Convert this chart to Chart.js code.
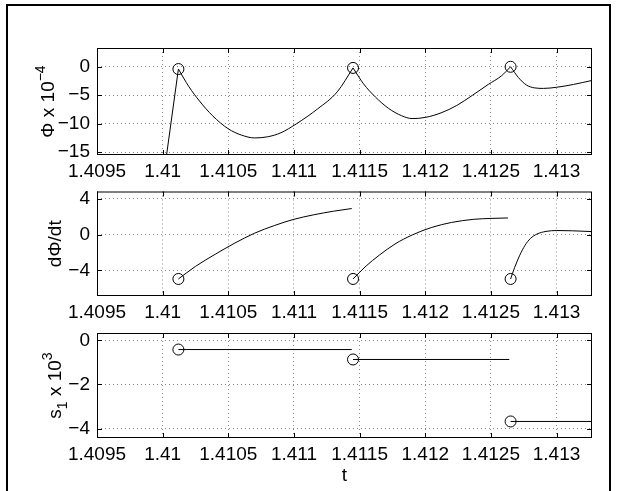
<!DOCTYPE html>
<html>
<head>
<meta charset="utf-8">
<script src="https://cdn.jsdelivr.net/npm/chart.js@4.4.1/dist/chart.umd.min.js"></script>
<style>
  html, body { margin: 0; padding: 0; background: #fff; }
  body { width: 619px; height: 491px; position: relative; overflow: hidden; }
  .frame { position: absolute; left: 6px; top: 4px; width: 601px; height: 520px; border: 2px solid #000; border-bottom: none; }
  canvas { position: absolute; left: 0; }
</style>
</head>
<body>
<div class="frame"></div>
<canvas id="c1" width="619" height="185" style="top:0px"></canvas>
<canvas id="c2" width="619" height="140" style="top:185px"></canvas>
<canvas id="c3" width="619" height="166" style="top:325px"></canvas>
<script>
// shared time axis
const xTicks = [1.4095, 1.41, 1.4105, 1.411, 1.4115, 1.412, 1.4125, 1.413];
const tMin = 1.4095, tMax = 1.41327;

// switching events (circles)
const eventT = [1.41012, 1.41145, 1.41265];
const phiEvent = [-0.4, -0.2, 0.0];
const dphiEvent = [-4.95, -4.95, -4.95];
const s1Event = [-0.42, -0.87, -3.68];

// Phi x 1e-4
const phiTicks = [-15, -10, -5, 0];
const phiT0 = [1.41000, 1.41012];
const phi0 = [-20.5, -0.4];
const phiT1 = [1.41012, 1.41020, 1.41028, 1.41038, 1.41050, 1.41060, 1.41070, 1.41080, 1.41090, 1.41102, 1.41118, 1.41133, 1.41145];
const phi1 = [-0.4, -3.5, -6.0, -8.6, -10.9, -12.0, -12.5, -12.3, -11.6, -10.0, -7.4, -4.4, -0.2];
const phiT2 = [1.41145, 1.41153, 1.41162, 1.41172, 1.41182, 1.41190, 1.41200, 1.41212, 1.41224, 1.41236, 1.41248, 1.41258, 1.41265];
const phi2 = [-0.2, -3.0, -5.3, -7.3, -8.6, -9.1, -8.9, -8.1, -6.8, -5.0, -3.1, -1.6, 0.0];
const phiT3 = [1.41265, 1.41271, 1.41277, 1.41283, 1.41290, 1.41300, 1.41313, 1.41327];
const phi3 = [0.0, -1.9, -3.2, -3.7, -3.8, -3.6, -3.1, -2.4];

// dPhi/dt
const dphiTicks = [-4, 0, 4];
const dT1 = [1.41012, 1.41025, 1.41040, 1.41055, 1.41070, 1.41085, 1.41100, 1.41115, 1.41130, 1.41144];
const dphi1 = [-4.95, -3.55, -2.2, -0.95, 0.15, 1.0, 1.7, 2.2, 2.6, 2.9];
const dT2 = [1.41145, 1.41155, 1.41165, 1.41177, 1.41190, 1.41205, 1.41220, 1.41237, 1.41250, 1.41263];
const dphi2 = [-4.95, -3.5, -2.3, -1.05, -0.05, 0.8, 1.35, 1.7, 1.8, 1.85];
const dT3 = [1.41265, 1.41268, 1.41272, 1.41276, 1.41280, 1.41285, 1.41292, 1.41300, 1.41312, 1.41327];
const dphi3 = [-4.95, -3.7, -2.3, -1.2, -0.45, 0.05, 0.35, 0.45, 0.42, 0.33];

// s1 x 1e3
const s1Ticks = [-4, -2, 0];
const sT1 = [1.41012, 1.41144];
const s1a = [-0.42, -0.42];
const sT2 = [1.41145, 1.41264];
const s1b = [-0.87, -0.87];
const sT3 = [1.41265, 1.41327];
const s1c = [-3.68, -3.68];

const FONT = '"Liberation Sans", Arial, Helvetica, sans-serif';
const FS = 19;
const pts = (xs, ys) => xs.map((x, i) => ({ x: x, y: ys[i] }));
const fmtNum = (v) => {
  const s = String(+v.toFixed(4));
  return v < 0 ? '\u2212' + s.slice(1) : s;
};

// draws label pieces (with sub/superscripts) centred on the text run; y = baseline
function drawRich(ctx, parts, bx, by, rotated) {
  ctx.save();
  ctx.translate(bx, by);
  if (rotated) ctx.rotate(-Math.PI / 2);
  ctx.fillStyle = '#000';
  ctx.textBaseline = 'alphabetic';
  ctx.textAlign = 'left';
  let w = 0;
  parts.forEach((p) => { ctx.font = (p.size || FS) + 'px ' + FONT; w += ctx.measureText(p.text).width; });
  let x = -w / 2;
  parts.forEach((p) => {
    ctx.font = (p.size || FS) + 'px ' + FONT;
    ctx.fillText(p.text, x, p.dy || 0);
    x += ctx.measureText(p.text).width;
  });
  ctx.restore();
}

function matlabAxes(cfg) {
  return {
    id: 'matlabAxes',
    afterDraw(chart) {
      const { ctx, chartArea: a, scales } = chart;
      ctx.save();
      ctx.strokeStyle = '#000';
      ctx.lineWidth = 1;
      ctx.setLineDash([]);
      ctx.strokeRect(a.left + 0.5, a.top + 0.5, a.right - a.left - 1, a.bottom - a.top - 1);
      const L = 5;
      ctx.beginPath();
      scales.x.ticks.forEach((t) => {
        const px = Math.round(scales.x.getPixelForValue(t.value)) + 0.5;
        ctx.moveTo(px, a.top); ctx.lineTo(px, a.top + L);
        ctx.moveTo(px, a.bottom); ctx.lineTo(px, a.bottom - L);
      });
      scales.y.ticks.forEach((t) => {
        const py = Math.round(scales.y.getPixelForValue(t.value)) + 0.5;
        ctx.moveTo(a.left, py); ctx.lineTo(a.left + L, py);
        ctx.moveTo(a.right, py); ctx.lineTo(a.right - L, py);
      });
      ctx.stroke();
      ctx.restore();
      drawRich(ctx, cfg.ylabel, cfg.ylabelBase, (a.top + a.bottom) / 2, true);
      if (cfg.xlabel) drawRich(ctx, cfg.xlabel, (a.left + a.right) / 2, cfg.xlabelBase, false);
    }
  };
}

function panel(id, cfg) {
  const lineSets = cfg.lines.map((l) => ({
    data: l,
    showLine: true,
    borderColor: '#000',
    borderWidth: 1,
    pointRadius: 0,
    cubicInterpolationMode: l.length > 2 ? 'monotone' : 'default',
    tension: 0
  }));
  const marks = {
    data: cfg.marks,
    showLine: false,
    pointRadius: 5.5,
    pointBorderWidth: 1,
    pointBorderColor: '#000',
    pointBackgroundColor: 'rgba(0,0,0,0)'
  };
  const tickFont = { family: FONT, size: FS };
  return new Chart(document.getElementById(id), {
    type: 'scatter',
    data: { datasets: lineSets.concat([marks]) },
    options: {
      responsive: false,
      animation: false,
      events: [],
      layout: { padding: { top: cfg.padTop, right: 27, bottom: 0, left: 0 } },
      plugins: { legend: { display: false }, tooltip: { enabled: false } },
      scales: {
        x: {
          type: 'linear', min: tMin, max: tMax,
          afterBuildTicks: (s) => { s.ticks = xTicks.map((v) => ({ value: v })); },
          afterFit: (s) => { s.height = cfg.xAxisH; s.paddingLeft = 0; s.paddingRight = 0; },
          grid: { color: '#8a8a8a', lineWidth: 1, drawTicks: false },
          border: { display: false, dash: [1, 3] },
          ticks: { font: tickFont, color: '#000', padding: 5, maxRotation: 0, autoSkip: false, callback: fmtNum }
        },
        y: {
          type: 'linear', min: cfg.yMin, max: cfg.yMax,
          afterBuildTicks: (s) => { s.ticks = cfg.yTicks.map((v) => ({ value: v })); },
          afterFit: (s) => { s.width = 97; s.paddingTop = 0; s.paddingBottom = 0; },
          grid: { color: '#8a8a8a', lineWidth: 1, drawTicks: false },
          border: { display: false, dash: [1, 3] },
          ticks: { font: tickFont, color: '#000', padding: 7, autoSkip: false, callback: fmtNum }
        }
      }
    },
    plugins: [matlabAxes(cfg)]
  });
}

panel('c1', {
  padTop: 48, xAxisH: 30, yMin: -15.5, yMax: 3.3, yTicks: phiTicks,
  lines: [pts(phiT0, phi0), pts(phiT1, phi1), pts(phiT2, phi2), pts(phiT3, phi3)],
  marks: pts(eventT, phiEvent),
  ylabelBase: 54,
  ylabel: [{ text: '\u03A6 x 10' }, { text: '\u22124', size: 14, dy: -9.5 }]
});

panel('c2', {
  padTop: 5, xAxisH: 29, yMin: -6.85, yMax: 4.8, yTicks: dphiTicks,
  lines: [pts(dT1, dphi1), pts(dT2, dphi2), pts(dT3, dphi3)],
  marks: pts(eventT, dphiEvent),
  ylabelBase: 61,
  ylabel: [{ text: 'd\u03A6/dt' }]
});

panel('c3', {
  padTop: 8, xAxisH: 53, yMin: -4.43, yMax: 0.33, yTicks: s1Ticks,
  lines: [pts(sT1, s1a), pts(sT2, s1b), pts(sT3, s1c)],
  marks: pts(eventT, s1Event),
  ylabelBase: 61,
  ylabel: [{ text: 's' }, { text: '1', size: 14, dy: 5.5 }, { text: ' x 10' }, { text: '3', size: 14, dy: -9.5 }],
  xlabelBase: 156,
  xlabel: [{ text: 't' }]
});
</script>
</body>
</html>
